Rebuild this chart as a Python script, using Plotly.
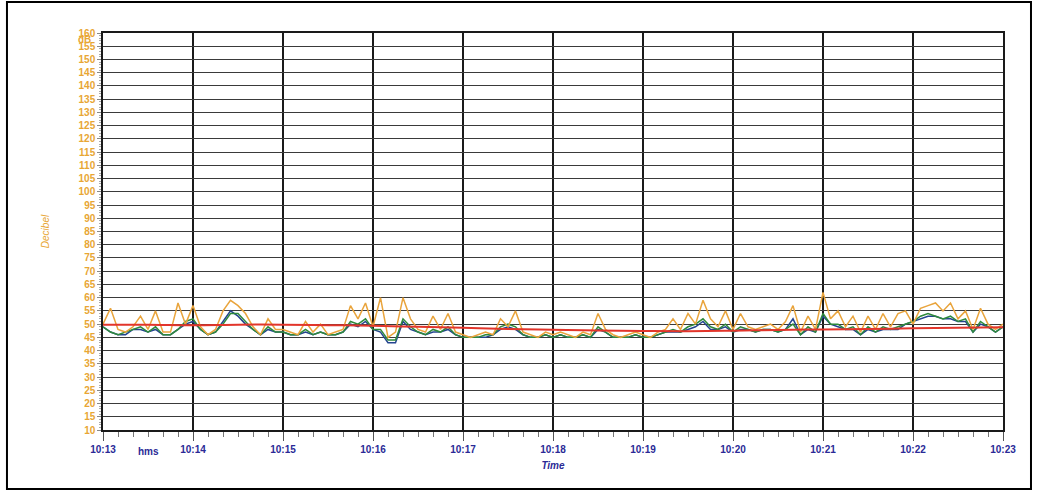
import pandas as pd
import plotly.graph_objects as go

# ---- data (5-second samples from 10:13:00 to 10:23:00) ----
start_time = "2020-01-01 10:13:00"
orange_db = [
    50, 56, 48, 47, 49, 53, 48, 55, 47, 47, 58, 50,
    57, 49, 46, 48, 55, 59, 57, 54, 49, 46, 52, 48,
    48, 47, 46, 51, 47, 50, 46, 47, 48, 57, 52, 58,
    49, 60, 45, 47, 60, 52, 48, 47, 53, 48, 54, 47,
    46, 45, 46, 47, 46, 52, 49, 55, 47, 46, 45, 47,
    46, 47, 46, 45, 47, 46, 54, 48, 46, 45, 46, 47,
    46, 45, 47, 48, 52, 48, 54, 50, 59, 52, 49, 55,
    48, 54, 49, 48, 49, 50, 48, 51, 57, 47, 53, 48,
    62, 52, 55, 49, 53, 47, 53, 48, 54, 49, 54, 55,
    50, 56, 57, 58, 55, 58, 52, 55, 48, 56, 50, 48, 50,
]
green_db = [
    49, 47, 46, 47, 48, 49, 47, 49, 46, 46, 48, 51,
    52, 48, 46, 47, 50, 54, 54, 51, 48, 46, 49, 47,
    47, 46, 46, 48, 46, 47, 46, 46, 47, 51, 50, 52,
    48, 48, 44, 44, 52, 49, 47, 46, 48, 47, 49, 46,
    45, 45, 45, 46, 46, 49, 50, 49, 46, 45, 45, 46,
    45, 46, 45, 45, 46, 45, 49, 47, 45, 45, 45, 46,
    45, 45, 46, 47, 48, 47, 49, 50, 52, 49, 48, 50,
    47, 49, 48, 47, 48, 48, 47, 48, 50, 46, 49, 47,
    54, 50, 50, 48, 49, 46, 49, 47, 49, 48, 49, 50,
    51, 53, 54, 53, 52, 53, 51, 52, 47, 51, 49, 47, 49,
]
blue_db = [
    49, 47, 46, 46, 48, 48, 47, 48, 46, 46, 48, 50,
    51, 48, 46, 47, 51, 55, 53, 50, 48, 46, 48, 47,
    47, 46, 46, 47, 46, 47, 46, 46, 47, 50, 49, 51,
    48, 47, 43, 43, 51, 48, 47, 46, 47, 47, 48, 46,
    45, 45, 45, 45, 46, 48, 49, 48, 46, 45, 45, 46,
    45, 46, 45, 45, 46, 45, 48, 47, 45, 45, 45, 46,
    45, 45, 46, 47, 47, 47, 48, 49, 51, 48, 48, 49,
    47, 48, 48, 47, 48, 48, 47, 48, 52, 46, 48, 47,
    53, 50, 49, 48, 48, 46, 48, 47, 48, 48, 48, 50,
    51, 52, 53, 53, 52, 52, 51, 51, 47, 50, 49, 47, 49,
]
# running Leq, every 30 s
red_db = [49.8, 49.8, 49.6, 49.8, 49.8, 49.6, 49.4, 49.0, 48.6, 48.2, 47.9,
          47.6, 47.4, 47.3, 47.5, 47.8, 48.0, 48.2, 48.4, 48.6, 48.8]

x_tick_labels = ["10:13", "10:14", "10:15", "10:16", "10:17", "10:18",
                 "10:19", "10:20", "10:21", "10:22", "10:23"]
y_ticks = list(range(10, 161, 5))

t5 = pd.date_range(start_time, periods=len(orange_db), freq="5s")
t30 = pd.date_range(start_time, periods=len(red_db), freq="30s")
minute_ticks = pd.date_range(start_time, periods=len(x_tick_labels), freq="60s")

ORANGE = "#E9A43C"
GREEN = "#2F8A3C"
BLUE = "#24458F"
RED = "#E2352B"
NAVY = "#2A2A96"
YLAB = "#E8A634"
FONT = "Liberation Sans, Arial"

fig = go.Figure()
fig.add_trace(go.Scatter(x=t5, y=blue_db, mode="lines", line=dict(color=BLUE, width=1.5), showlegend=False))
fig.add_trace(go.Scatter(x=t5, y=green_db, mode="lines", line=dict(color=GREEN, width=1.5), showlegend=False))
fig.add_trace(go.Scatter(x=t5, y=orange_db, mode="lines", line=dict(color=ORANGE, width=1.5), showlegend=False))
fig.add_trace(go.Scatter(x=t30, y=red_db, mode="lines", line=dict(color=RED, width=2, shape="spline"), showlegend=False))

fig.update_layout(
    width=1040, height=494,
    margin=dict(l=103, r=37, t=33, b=64),
    paper_bgcolor="white", plot_bgcolor="white",
    font=dict(family=FONT, size=10),
    xaxis=dict(
        type="date",
        range=[minute_ticks[0], minute_ticks[-1]],
        tickvals=list(minute_ticks),
        ticktext=["<b>%s</b>" % s for s in x_tick_labels],
        tickfont=dict(color=NAVY, size=10, family=FONT),
        showgrid=True, gridcolor="#1a1a1a", gridwidth=1.5,
        showline=True, linecolor="#1a1a1a", linewidth=1.5, mirror=True,
        ticks="outside", ticklen=9, tickcolor="#555",
        minor=dict(dtick=10000, ticks="outside", ticklen=5, tickcolor="#777", showgrid=False),
        zeroline=False,
        title=dict(text="<b><i>Time</i></b>", font=dict(color=NAVY, size=10, family=FONT), standoff=8),
    ),
    yaxis=dict(
        range=[10, 160],
        tickvals=y_ticks,
        tickfont=dict(color=YLAB, size=10, family=FONT, weight="bold"),
        showgrid=True, gridcolor="#3a3a3a", gridwidth=1.2,
        showline=True, linecolor="#1a1a1a", linewidth=1.5, mirror=True,
        ticks="outside", ticklen=4, tickcolor="#888",
        minor=dict(dtick=1, ticks="outside", ticklen=2, tickcolor="#aaa", showgrid=False),
        zeroline=False,
        title=dict(text="<i>Decibel</i>", font=dict(color=YLAB, size=10, family=FONT), standoff=27),
    ),
    shapes=[dict(type="rect", xref="paper", yref="paper",
                 x0=-0.1067, x1=1.0311, y0=-0.1486, y1=1.078,
                 line=dict(color="black", width=2), fillcolor="rgba(0,0,0,0)")],
    annotations=[
        dict(text="<b>hms</b>", xref="paper", yref="paper", x=0.05, y=-0.035,
             showarrow=False, font=dict(color=NAVY, size=10, family=FONT), xanchor="center", yanchor="top"),
        dict(text="<b>dB</b>", xref="paper", yref="paper", x=-0.011, y=0.983,
             showarrow=False, font=dict(color=YLAB, size=10, family=FONT), xanchor="right", yanchor="middle"),
    ],
)

fig.write_html("out.html", config={"displayModeBar": False},
               post_script="document.body.style.margin='0';document.body.style.overflow='hidden';")
